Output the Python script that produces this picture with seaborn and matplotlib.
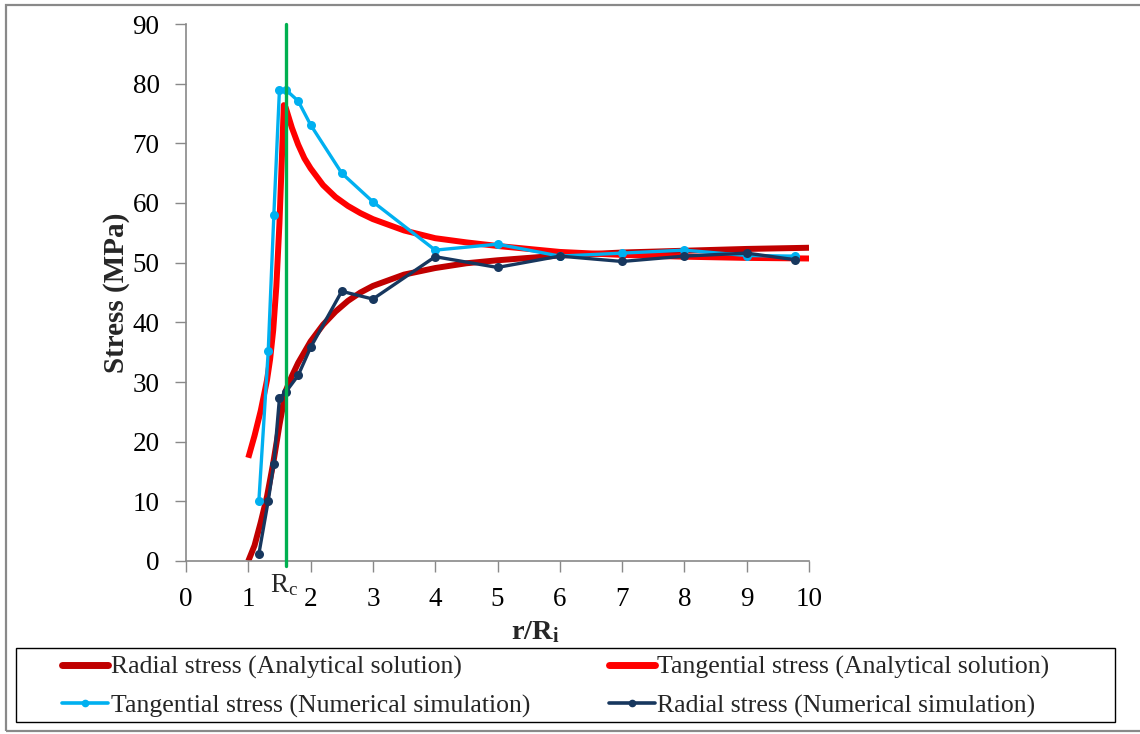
import numpy as np
import pandas as pd
import matplotlib
matplotlib.use("Agg")
import matplotlib.pyplot as plt
from matplotlib.patches import Rectangle
from matplotlib.lines import Line2D
import seaborn as sns

# ---------------- data ----------------
ra_x = [1.0, 1.1, 1.2, 1.3, 1.4, 1.5, 1.6, 1.7, 1.8, 1.9, 2.0, 2.2, 2.4, 2.6, 2.8,
        3.0, 3.5, 4.0, 4.5, 5.0, 6.0, 7.0, 8.0, 9.0, 10.0]
ra_y = [0.0, 2.6, 6.5, 10.8, 16.4, 22.8, 28.5, 31.0, 33.2, 35.0, 36.8, 39.6, 41.8, 43.6, 45.0,
        46.1, 48.0, 49.1, 49.9, 50.4, 51.2, 51.7, 52.0, 52.3, 52.5]

ta_x = [1.0, 1.1, 1.2, 1.3, 1.35, 1.4, 1.45, 1.5, 1.54, 1.57, 1.6, 1.65, 1.7, 1.8, 1.9,
        2.0, 2.2, 2.4, 2.6, 2.8, 3.0, 3.5, 4.0, 4.5, 5.0, 6.0, 7.0, 8.0, 9.0, 10.0]
ta_y = [17.3, 21.0, 25.2, 30.3, 33.8, 38.7, 46.0, 56.6, 67.8, 76.4, 76.0, 74.3, 72.6, 69.8, 67.5,
        65.8, 63.0, 61.0, 59.5, 58.3, 57.3, 55.4, 54.1, 53.4, 52.8, 51.8, 51.3, 51.0, 50.8, 50.7]

tn_x = [1.17, 1.32, 1.41, 1.50, 1.60, 1.80, 2.00, 2.50, 3.00, 4.00, 5.00, 6.00, 7.00, 8.00, 9.00, 9.77]
tn_y = [10.1, 35.2, 58.0, 79.0, 79.0, 77.1, 73.1, 65.0, 60.2, 52.1, 53.1, 51.1, 51.6, 52.1, 51.2, 51.1]

rn_x = [1.17, 1.32, 1.41, 1.50, 1.60, 1.80, 2.00, 2.50, 3.00, 4.00, 5.00, 6.00, 7.00, 8.00, 9.00, 9.77]
rn_y = [1.2, 10.1, 16.3, 27.3, 28.3, 31.1, 35.8, 45.2, 43.9, 51.0, 49.2, 51.1, 50.2, 51.1, 51.6, 50.5]

rc_value = 1.6
x_ticks = [0, 1, 2, 3, 4, 5, 6, 7, 8, 9, 10]
y_ticks = [0, 10, 20, 30, 40, 50, 60, 70, 80, 90]

labels = ["Radial stress (Analytical solution)",
          "Tangential stress (Analytical solution)",
          "Tangential stress (Numerical simulation)",
          "Radial stress (Numerical simulation)"]

# ---------------- style ----------------
sns.set_style("white")
plt.rcParams["font.family"] = ["Liberation Serif", "DejaVu Serif"]
plt.rcParams["mathtext.fontset"] = "custom"
plt.rcParams["mathtext.rm"] = "Liberation Serif"
plt.rcParams["mathtext.it"] = "Liberation Serif:italic"
plt.rcParams["mathtext.bf"] = "Liberation Serif:bold"

C_RA = "#C00000"
C_TA = "#FF0000"
C_TN = "#00B0F0"
C_RN = "#17375E"
C_GREEN = "#00B050"
GRAY = "#898989"

W, H = 1140, 734
fig = plt.figure(figsize=(W / 100, H / 100), dpi=100)
ax = fig.add_axes([186 / W, 1 - 561 / H, (809 - 186) / W, (561 - 24) / H])

df_ra = pd.DataFrame({"x": ra_x, "y": ra_y})
df_ta = pd.DataFrame({"x": ta_x, "y": ta_y})
df_tn = pd.DataFrame({"x": tn_x, "y": tn_y})
df_rn = pd.DataFrame({"x": rn_x, "y": rn_y})

sns.lineplot(data=df_ra, x="x", y="y", ax=ax, color=C_RA, linewidth=4.3, sort=False,
             estimator=None, zorder=2, solid_capstyle="butt")
sns.lineplot(data=df_ta, x="x", y="y", ax=ax, color=C_TA, linewidth=4.3, sort=False,
             estimator=None, zorder=2, solid_capstyle="butt")
sns.lineplot(data=df_tn, x="x", y="y", ax=ax, color=C_TN, linewidth=2.4, sort=False,
             estimator=None, marker="o", markersize=6.5, markeredgewidth=0, zorder=3)
sns.lineplot(data=df_rn, x="x", y="y", ax=ax, color=C_RN, linewidth=2.4, sort=False,
             estimator=None, marker="o", markersize=6.5, markeredgewidth=0, zorder=4)

ax.axvline(rc_value, ymin=-0.01, ymax=1.0, color=C_GREEN, linewidth=2.4, zorder=5, clip_on=False)

ax.set_xlim(0, 10)
ax.set_ylim(0, 90)
ax.set_xticks(x_ticks)
ax.set_yticks(y_ticks)
ax.tick_params(axis="both", which="major", labelsize=19.5, colors=GRAY, labelcolor="black",
               length=8, width=1, direction="out", pad=11)
ax.tick_params(axis="y", left=True)
ax.tick_params(axis="x", bottom=True)
for s in ["top", "right"]:
    ax.spines[s].set_visible(False)
for s in ["left", "bottom"]:
    ax.spines[s].set_color(GRAY)
    ax.spines[s].set_linewidth(1.2)
ax.grid(False)

ax.set_xlabel(r"$\mathbf{r/R_i}$", fontsize=20.5)
ax.xaxis.set_label_coords((535 - 186) / 623, -(619 - 561) / 537)
ax.set_ylabel("Stress (MPa)", fontsize=21, fontweight="bold")
ax.yaxis.set_label_coords((130 - 186) / 623, 0.5)

ax.text(1.57, -1.8, r"R$_\mathrm{c}$", fontsize=19.5, ha="center", va="top", transform=ax.transData)

# figure border
fig.patches.append(Rectangle((6 / W, 1 - 731 / H), 1.2, (731 - 5) / H, transform=fig.transFigure,
                             fill=False, edgecolor=GRAY, linewidth=1.6, zorder=0))
# legend frame
fig.patches.append(Rectangle((16 / W, 1 - 722 / H), (1115 - 16) / W, (722 - 648) / H,
                             transform=fig.transFigure, fill=False, edgecolor="black",
                             linewidth=1.0, zorder=1))

handles = [
    Line2D([], [], color=C_RA, linewidth=5),
    Line2D([], [], color=C_TN, linewidth=2.6, marker="o", markersize=4.5),
    Line2D([], [], color=C_TA, linewidth=5),
    Line2D([], [], color=C_RN, linewidth=2.6, marker="o", markersize=4.5),
]
hl = [labels[0], labels[2], labels[1], labels[3]]
fig.legend(handles, hl, loc="upper left", bbox_to_anchor=(62 / W, 1 - 656 / H),
           ncol=2, frameon=False, fontsize=18.5, handlelength=1.8, handletextpad=0.1,
           columnspacing=3.05, labelspacing=0.58, borderpad=0, borderaxespad=0)

fig.savefig("out.png", dpi=100)
